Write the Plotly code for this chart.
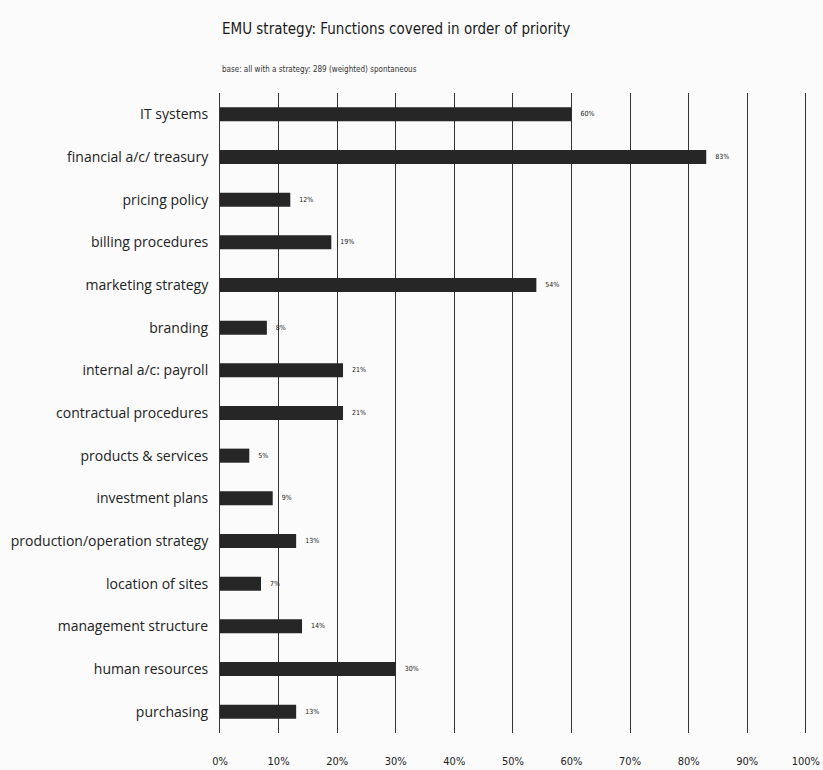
import plotly.graph_objects as go

# Functions covered by EMU strategy, top to bottom in order of priority
functions = [
    "IT systems",
    "financial a/c/ treasury",
    "pricing policy",
    "billing procedures",
    "marketing strategy",
    "branding",
    "internal a/c: payroll",
    "contractual procedures",
    "products & services",
    "investment plans",
    "production/operation strategy",
    "location of sites",
    "management structure",
    "human resources",
    "purchasing",
]
shares = [60, 83, 12, 19, 54, 8, 21, 21, 5, 9, 13, 7, 14, 30, 13]

tick_vals = [0, 10, 20, 30, 40, 50, 60, 70, 80, 90, 100]
tick_text = ["0%", "10%", "20%", "30%", "40%", "50%", "60%", "70%", "80%", "90%", "100%"]

NARROW = "DejaVu Sans Condensed, Liberation Sans Narrow, sans-serif"

fig = go.Figure(
    go.Bar(
        x=shares,
        y=functions,
        orientation="h",
        marker=dict(color="#262626", line=dict(width=0)),
        text=[f"   {v}%" for v in shares],
        textposition="outside",
        textfont=dict(size=7, color="#222222", family=NARROW),
        cliponaxis=False,
    )
)

fig.update_layout(
    width=823,
    height=770,
    margin=dict(l=220, r=16, t=93, b=37, autoexpand=False),
    paper_bgcolor="#fbfbfb",
    plot_bgcolor="#fbfbfb",
    bargap=0.67,
    showlegend=False,
    font=dict(family="Open Sans, sans-serif", color="#222222"),
    xaxis=dict(
        range=[0, 100.2],
        tickvals=tick_vals,
        ticktext=tick_text,
        showgrid=True,
        gridcolor="#333333",
        gridwidth=1,
        zeroline=False,
        showline=False,
        ticks="",
        automargin=False,
        ticklabelstandoff=20,
        ticklabeloverflow="allow",
        tickfont=dict(size=11, family=NARROW, color="#222222"),
    ),
    yaxis=dict(
        categoryorder="array",
        categoryarray=functions,
        autorange="reversed",
        showgrid=False,
        zeroline=False,
        showline=True,
        linecolor="#333333",
        linewidth=1,
        ticks="",
        automargin=False,
        ticklabelstandoff=8,
        tickfont=dict(size=14, family="Open Sans, sans-serif", color="#222222"),
    ),
    annotations=[
        dict(
            text="EMU strategy: Functions covered in order of priority",
            xref="paper", yref="paper", x=0, y=1,
            xanchor="left", yanchor="bottom", yshift=53,
            showarrow=False,
            font=dict(size=15, family=NARROW, color="#1a1a1a"),
        ),
        dict(
            text="base: all with a strategy: 289 (weighted) spontaneous",
            xref="paper", yref="paper", x=0, y=1,
            xanchor="left", yanchor="bottom", yshift=17,
            showarrow=False,
            font=dict(size=8, family=NARROW, color="#333333"),
        ),
    ],
)

fig.write_html("out.html")
